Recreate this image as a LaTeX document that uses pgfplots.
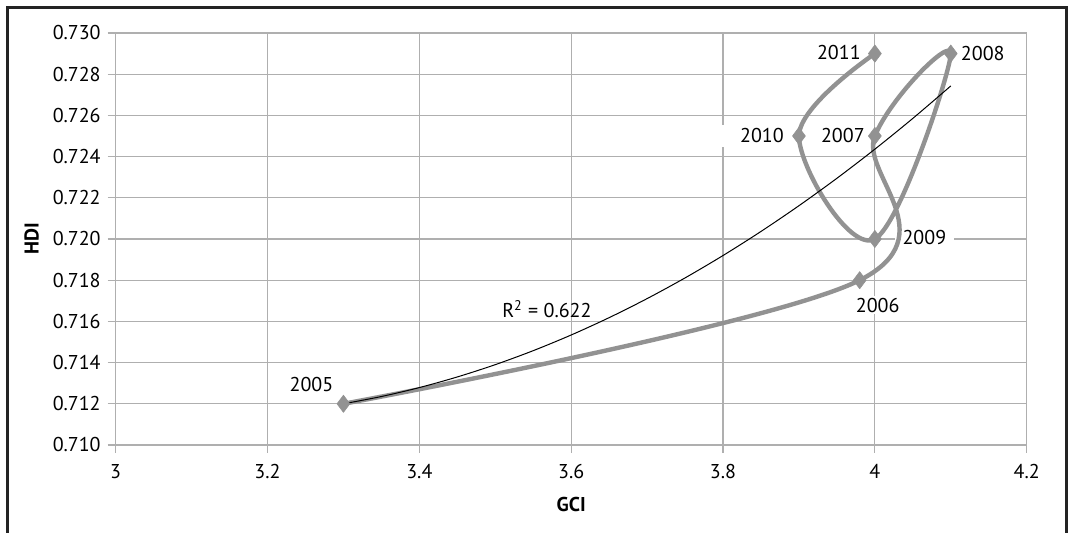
\documentclass[border=0pt]{standalone}
\usepackage{pgfplots}
\pgfplotsset{compat=1.18}
\usepackage{fontspec}
\setmainfont{PT Sans}
\definecolor{curvegray}{RGB}{146,146,146}
\definecolor{gridgray}{RGB}{175,175,175}
\definecolor{framecol}{RGB}{35,35,35}
\begin{document}
\begin{tikzpicture}
\useasboundingbox (-57.85pt,-44pt) rectangle (478.15pt,222.5pt);
\draw[line width=1.5pt, framecol] (-53.85pt,-60pt) -- (-53.85pt,218.5pt) -- (475.15pt,218.5pt) -- (475.15pt,-60pt);
\begin{axis}[
  at={(0pt,0pt)}, anchor=south west,
  scale only axis, width=455.5pt, height=206pt,
  xmin=3, xmax=4.2, ymin=0.710, ymax=0.730,
  xtick={3,3.2,3.4,3.6,3.8,4,4.2},
  ytick={0.710,0.712,0.714,0.716,0.718,0.720,0.722,0.724,0.726,0.728,0.730},
  scaled y ticks=false, scaled x ticks=false,
  /pgf/number format/assume math mode=true,
  yticklabel style={/pgf/number format/.cd, fixed, fixed zerofill, precision=3},
  xticklabel style={yshift=-2pt, /pgf/number format/.cd, fixed, precision=1},
  grid=major,
  major grid style={draw=gridgray, line width=0.6pt},
  axis line style={draw=gridgray, line width=0.6pt},
  tick style={draw=gridgray, line width=0.6pt},
  tick align=outside, major tick length=4pt, tick pos=left,
  xlabel={\textbf{GCI}}, ylabel={\textbf{HDI}},
  xlabel style={at={(axis description cs:0.5,0)}, anchor=center, yshift=-30pt},
  ylabel style={at={(axis description cs:-0.0922,0.5)}, anchor=center},
  clip=false,
]
% labels (white boxes) first
\node[fill=white, inner ysep=1pt, inner xsep=3pt] at (axis cs:3.3,0.712) [xshift=-16pt, yshift=9.5pt] {2005};
\node[fill=white, inner sep=1pt] at (axis cs:3.98,0.718) [xshift=9pt, yshift=-12.5pt] {2006};
\node[inner sep=1pt] at (axis cs:4.0,0.725) [xshift=-16pt] {2007};
\node[fill=white, inner sep=1pt] at (axis cs:4.1,0.729) [xshift=16pt] {2008};
\node[fill=white, inner ysep=2pt, inner xsep=4pt] at (axis cs:4.0,0.720) [xshift=24.75pt, yshift=0.5pt] {2009};
\node[fill=white, inner ysep=2pt, inner xsep=10pt] at (axis cs:3.9,0.725) [xshift=-18.5pt] {2010};
\node[inner sep=1pt] at (axis cs:4.0,0.729) [xshift=-18pt, yshift=0.5pt] {2011};
\node at (axis cs:3.568,0.7166) {R\textsuperscript{2} = 0.622};
% data curve
\addplot[curvegray, line width=2.2pt, smooth, tension=0.6, line cap=round, line join=round,
  mark=diamond*, mark size=4.3pt, mark options={fill=curvegray, draw=curvegray, line width=0.3pt}]
  coordinates {(3.3,0.712) (3.98,0.718) (4.0,0.725) (4.1,0.729) (4.0,0.720) (3.9,0.725) (4.0,0.729)};
% trend line
\addplot[black, line width=0.5pt, smooth, no markers] coordinates {
(3.30,0.712000) (3.35,0.712353) (3.40,0.712787) (3.45,0.713303) (3.50,0.713900)
(3.55,0.714579) (3.60,0.715340) (3.65,0.716182) (3.70,0.717106) (3.75,0.718111)
(3.80,0.719198) (3.85,0.720366) (3.90,0.721616) (3.95,0.722947) (4.00,0.724360)
(4.05,0.725854) (4.10,0.727430)};
\end{axis}
\end{tikzpicture}
\end{document}
